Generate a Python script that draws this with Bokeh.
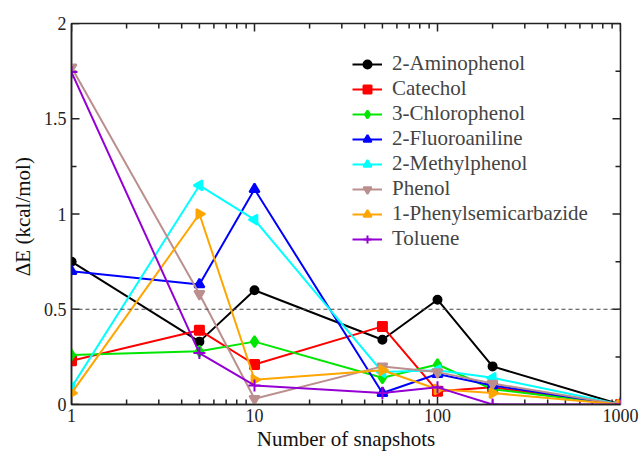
import numpy as np
from bokeh.plotting import figure
from bokeh.models import (Span, SingleIntervalTicker, CustomJSTickFormatter, Legend)
from bokeh.embed import file_html
from bokeh.resources import INLINE

snapshots = [1, 5, 10, 50, 100, 200, 1000]
aminophenol = [0.75, 0.33, 0.60, 0.34, 0.55, 0.20, 0.0]
catechol = [0.23, 0.39, 0.21, 0.41, 0.07, 0.09, 0.0]
chlorophenol = [0.26, 0.28, 0.33, 0.14, 0.21, 0.08, 0.0]
fluoroaniline = [0.70, 0.63, 1.13, 0.06, 0.16, 0.10, 0.0]
methylphenol = [0.09, 1.15, 0.97, 0.17, 0.18, 0.14, 0.0]
phenol = [1.77, 0.58, 0.03, 0.20, 0.17, 0.11, 0.0]
phenylsemicarbazide = [0.06, 1.00, 0.13, 0.18, 0.08, 0.06, 0.0]
toluene = [1.745, 0.27, 0.10, 0.06, 0.09, 0.0, 0.0]

names = ["2-Aminophenol", "Catechol", "3-Chlorophenol", "2-Fluoroaniline",
         "2-Methylphenol", "Phenol", "1-Phenylsemicarbazide", "Toluene"]
series = [aminophenol, catechol, chlorophenol, fluoroaniline,
          methylphenol, phenol, phenylsemicarbazide, toluene]
colors = ["#000000", "#ff0000", "#00e600", "#0000ff",
          "#00ffff", "#bc8f8f", "#ffa500", "#9400d3"]
markers = ["circle", "square", "diamond", "triangle",
           "triangle", "inverted_triangle", "triangle", "cross"]
angles = [0, 0, 0, 0, np.pi / 2, 0, -np.pi / 2, 0]
sizes = [8, 9, 11, 10, 10, 10, 10, 12]

# tick positions
y_major = [0, 0.5, 1, 1.5, 2]
y_minor = [0.25, 0.75, 1.25, 1.75]
x_major = [1, 10, 100, 1000]
x_minor = [2, 3, 4, 5, 6, 7, 8, 9, 20, 30, 40, 50, 60, 70, 80, 90,
           200, 300, 400, 500, 600, 700, 800, 900]

FONT = "Liberation Serif"
AX = "#222222"

p = figure(width=641, height=453, x_axis_type="log", x_range=(1, 1000), y_range=(0, 2),
           output_backend="svg", toolbar_location=None,
           min_border_left=71, min_border_right=21, min_border_top=23, min_border_bottom=47)
p.grid.visible = False
p.outline_line_color = AX
p.outline_line_width = 1.5

p.add_layout(Span(location=0.5, dimension="width", line_color="#444444",
                  line_dash="4 3", line_width=1))

# inward tick marks drawn as short segments (lengths in px converted to data units)
PX_PER_DECADE = 549 / 3.0
PX_PER_UNIT = 381 / 2.0
def xfac(px):
    return 10 ** (px / PX_PER_DECADE)
def ylen(px):
    return px / PX_PER_UNIT

for ticks, L in ((y_major, 8), (y_minor, 5)):
    n = len(ticks)
    p.segment(x0=[1] * n, y0=ticks, x1=[xfac(L)] * n, y1=ticks,
              line_color=AX, line_width=1.5)
    p.segment(x0=[1000] * n, y0=ticks, x1=[1000 / xfac(L)] * n, y1=ticks,
              line_color=AX, line_width=1.5)
for ticks, L in ((x_major, 8), (x_minor, 5)):
    n = len(ticks)
    p.segment(x0=ticks, y0=[0] * n, x1=ticks, y1=[ylen(L)] * n,
              line_color=AX, line_width=1.5)
    p.segment(x0=ticks, y0=[2] * n, x1=ticks, y1=[2 - ylen(L)] * n,
              line_color=AX, line_width=1.5)

items = []
for name, ys, c, m, a, s in zip(names, series, colors, markers, angles, sizes):
    r1 = p.line(snapshots, ys, line_color=c, line_width=2)
    r2 = p.scatter(snapshots, ys, marker=m, angle=a, size=s,
                   fill_color=c, line_color=c, line_width=2)
    items.append((name, [r1, r2]))

legend = Legend(items=items, location=(281, 153), padding=0, margin=0,
                border_line_color=None, background_fill_alpha=0,
                label_text_font=FONT, label_text_font_size="21px",
                glyph_width=30, glyph_height=20, label_height=20,
                label_standoff=10, spacing=0)
p.add_layout(legend)

xa = p.xaxis[0]
ya = p.yaxis[0]
ya.ticker = SingleIntervalTicker(interval=0.5, num_minor_ticks=2)
ya.formatter = CustomJSTickFormatter(code="return tick.toString();")
xa.formatter = CustomJSTickFormatter(code="return tick.toString();")
xa.axis_label = "Number of snapshots"
ya.axis_label = "\u0394E  (kcal/mol)"

for ax in (xa, ya):
    ax.axis_label_text_font = FONT
    ax.axis_label_text_font_size = "21px"
    ax.axis_label_text_font_style = "normal"
    ax.axis_label_text_color = "#111111"
    ax.major_label_text_font = FONT
    ax.major_label_text_font_size = "18px"
    ax.major_label_text_color = "#222222"
    ax.major_tick_in = 0
    ax.major_tick_out = 0
    ax.minor_tick_in = 0
    ax.minor_tick_out = 0
    ax.axis_line_color = AX
    ax.axis_line_width = 1.5
xa.major_label_standoff = 4
xa.axis_label_standoff = 2
ya.major_label_standoff = 5
ya.axis_label_standoff = 6

open("out.html", "w").write(file_html(p, INLINE))
